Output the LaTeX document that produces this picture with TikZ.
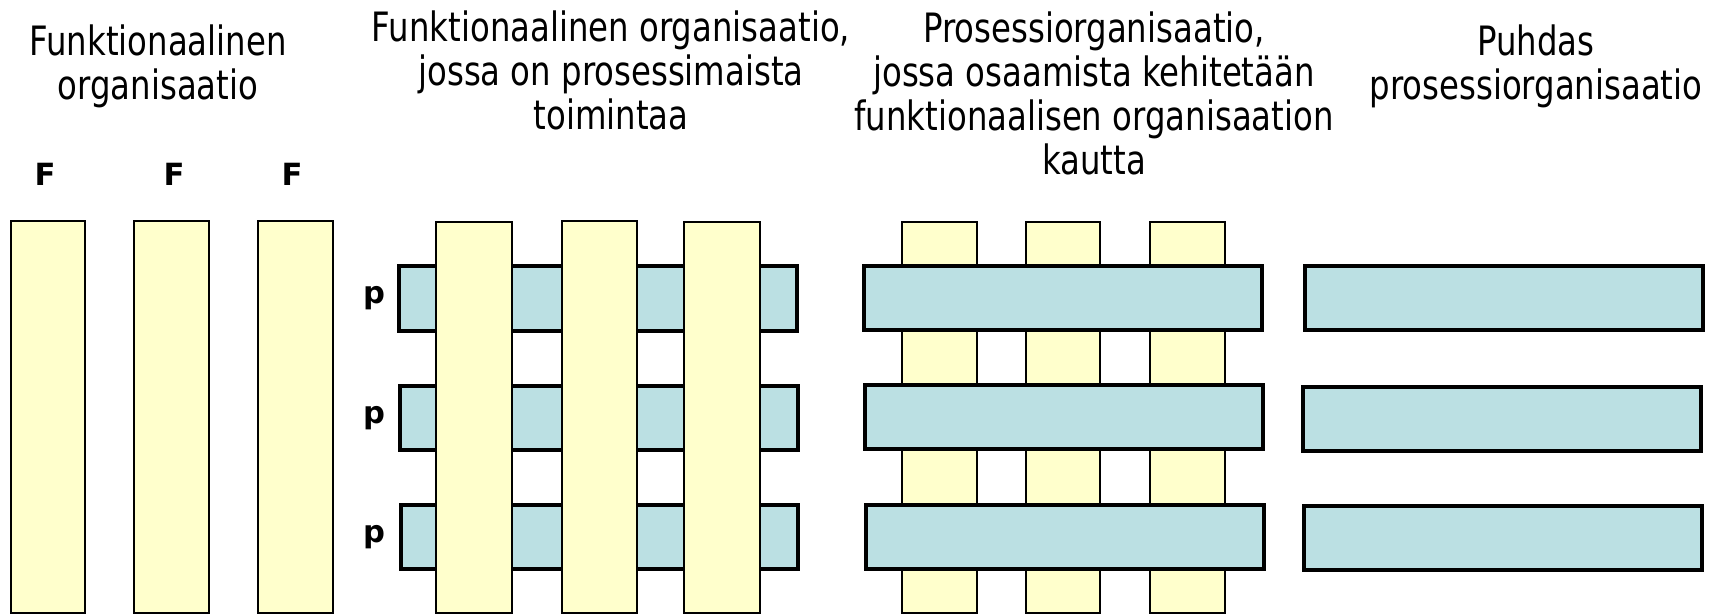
\documentclass[tikz,border=0pt]{standalone}
\usepackage{fontspec}
\usepackage{tikz}
\newfontfamily\titlefont[FakeStretch=0.8]{DejaVu Sans}
\newfontfamily\labelfont{DejaVu Sans}
\definecolor{funcyellow}{RGB}{255,255,204}
\definecolor{procblue}{RGB}{187,224,227}

\begin{document}
\begin{tikzpicture}[x=0.01cm,y=-0.01cm,
		func bar/.style={draw=black,fill=funcyellow,line width=0.8pt},
		proc bar/.style={draw=black,fill=procblue,line width=0.95pt},
		title node/.style={anchor=north,inner sep=0pt,align=center,
			font=\titlefont\fontsize{11.5}{12.5}\selectfont},
		tag node/.style={inner sep=0pt,font=\labelfont\bfseries\fontsize{8.7}{10}\selectfont}]
		
		\useasboundingbox (0,0) rectangle (1720,615);
		
		% otsikot
		\node[title node] (t1) at (158,24) {Funktionaalinen\\organisaatio};
		\node[title node] (t2) at (611,10) {Funktionaalinen organisaatio,\\jossa on prosessimaista\\toimintaa};
		\node[title node] (t3) at (1094,11) {Prosessiorganisaatio,\\jossa osaamista kehitetään\\funktionaalisen organisaation\\kautta};
		\node[title node] (t4) at (1536,24) {Puhdas\\prosessiorganisaatio};
		
		% funktionaalinen
		\node[tag node] (f1) at (45,174) {F};
		\node[tag node] (f2) at (174,174) {F};
		\node[tag node] (f3) at (292,174) {F};
		\path[func bar] (11,221) rectangle (85,613);
		\path[func bar] (134,221) rectangle (209,613);
		\path[func bar] (258,221) rectangle (333,613);
		
		% prosessimaista toimintaa
		\node[tag node] (p1) at (374,298) {p};
		\node[tag node] (p2) at (374,418) {p};
		\node[tag node] (p3) at (374,537) {p};
		\path[proc bar] (399,266) rectangle (797,331);
		\path[proc bar] (400,386) rectangle (798,450);
		\path[proc bar] (401,505) rectangle (798,569);
		\path[func bar] (436,222) rectangle (512,613);
		\path[func bar] (562,221) rectangle (637,613);
		\path[func bar] (684,222) rectangle (760,613);
		
		% prosessiorganisaatio
		\path[func bar] (902,222) rectangle (977,613);
		\path[func bar] (1026,222) rectangle (1100,613);
		\path[func bar] (1150,222) rectangle (1225,613);
		\path[proc bar] (864,266) rectangle (1262,330);
		\path[proc bar] (865,385) rectangle (1263,449);
		\path[proc bar] (866,505) rectangle (1264,569);
		
		% puhdas
		\path[proc bar] (1305,266) rectangle (1703,330);
		\path[proc bar] (1303,387) rectangle (1701,451);
		\path[proc bar] (1304,506) rectangle (1702,570);
		\end{tikzpicture}
\end{document}
